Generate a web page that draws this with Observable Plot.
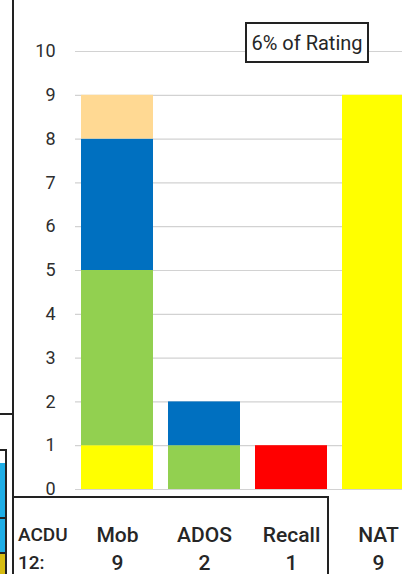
<!DOCTYPE html>
<html>
<head>
<meta charset="utf-8">
<script src="https://cdn.jsdelivr.net/npm/d3@7"></script>
<script src="https://cdn.jsdelivr.net/npm/@observablehq/plot@0.6"></script>
<style>
  html, body { margin: 0; padding: 0; background: #fff; }
  #wrap { position: relative; width: 402px; height: 574px; overflow: hidden; font-family: Roboto, sans-serif; }
  #wrap svg { position: absolute; left: 0; top: 0; }
  .abs { position: absolute; box-sizing: border-box; }
</style>
</head>
<body>
<div id="wrap"></div>
<script>
// ---- data ----
const categories = ["Mob", "ADOS", "Recall", "NAT"];
const seriesNames = ["Yellow", "Green", "Blue", "Peach", "Red"];
const seriesColors = ["#FFFF00", "#92D050", "#0070C0", "#FFD993", "#FF0000"];
const yellowValues = [1, 0, 0, 9];
const greenValues  = [4, 1, 0, 0];
const blueValues   = [3, 1, 0, 0];
const peachValues  = [1, 0, 0, 0];
const redValues    = [0, 0, 1, 0];
const totals = [9, 2, 1, 9];
const yTicks = [0, 1, 2, 3, 4, 5, 6, 7, 8, 9, 10];
const rowLabel = "ACDU";
const rowSub = "12:";
const boxLabel = "6% of Rating";

const seriesValues = [yellowValues, greenValues, blueValues, peachValues, redValues];
const data = [];
seriesNames.forEach((s, si) => {
  categories.forEach((c, ci) => {
    data.push({cat: c, series: s, value: seriesValues[si][ci]});
  });
});

const chart = Plot.plot({
  width: 402,
  height: 574,
  marginLeft: 75,
  marginRight: 0,
  marginTop: 51,
  marginBottom: 85,
  style: {fontFamily: "Roboto, sans-serif", background: "transparent", overflow: "hidden"},
  x: {domain: categories, range: [74, 422], paddingInner: 0.17, paddingOuter: 0.085, axis: null},
  y: {domain: [0, 10], axis: null},
  color: {domain: seriesNames, range: seriesColors},
  marks: [
    Plot.gridY(yTicks, {stroke: "#d2d2d2", strokeOpacity: 1, strokeWidth: 1.2}),
    Plot.axisY(yTicks, {tickSize: 0, tickPadding: 20, fontSize: 18, fill: "#2e2e2e", label: null}),
    Plot.barY(data, {x: "cat", y: "value", fill: "series", order: seriesNames}),
    Plot.text(categories, {x: d => d, text: d => d, frameAnchor: "bottom", dy: 46, fontSize: 21, fontWeight: 500, fill: "#262626", lineAnchor: "middle"}),
    Plot.text(categories, {x: d => d, text: (d, i) => String(totals[i]), frameAnchor: "bottom", dy: 74, fontSize: 21, fontWeight: 500, fill: "#262626", lineAnchor: "middle"})
  ]
});

const wrap = document.getElementById("wrap");
wrap.appendChild(chart);

function addDiv(css, text) {
  const d = document.createElement("div");
  d.className = "abs";
  d.style.cssText = css;
  if (text !== undefined) d.textContent = text;
  wrap.appendChild(d);
  return d;
}

// left border line
addDiv("left:12px;top:0;width:2px;height:574px;background:#222;");
// small horizontal line at left
addDiv("left:0;top:413px;width:13px;height:2px;background:#222;");
// partial cells at left edge
addDiv("left:0;top:449px;width:7px;height:125px;border:2px solid #222;border-left:none;background:#fff;");
addDiv("left:0;top:463px;width:5px;height:54px;background:#1FAEE6;");
addDiv("left:0;top:519px;width:5px;height:33px;background:#1FAEE6;");
addDiv("left:0;top:554px;width:5px;height:20px;background:#D6BC12;");
addDiv("left:0;top:517px;width:6px;height:2px;background:#222;");
addDiv("left:0;top:552px;width:6px;height:2px;background:#222;");

// table box
addDiv("left:14px;top:496px;width:315px;height:90px;border:2px solid #222;border-left:none;background:transparent;");
addDiv("left:18px;top:524px;font-size:19px;font-weight:500;color:#262626;line-height:22px;font-family:Roboto,sans-serif;", rowLabel);
addDiv("left:18px;top:552px;font-size:19px;font-weight:500;color:#262626;line-height:22px;font-family:Roboto,sans-serif;", rowSub);

// label box
addDiv("left:245px;top:22px;width:124px;height:41px;border:2px solid #222;background:#fff;font-size:20px;color:#262626;display:flex;align-items:center;justify-content:center;font-family:Roboto,sans-serif;", boxLabel);
</script>
</body>
</html>
